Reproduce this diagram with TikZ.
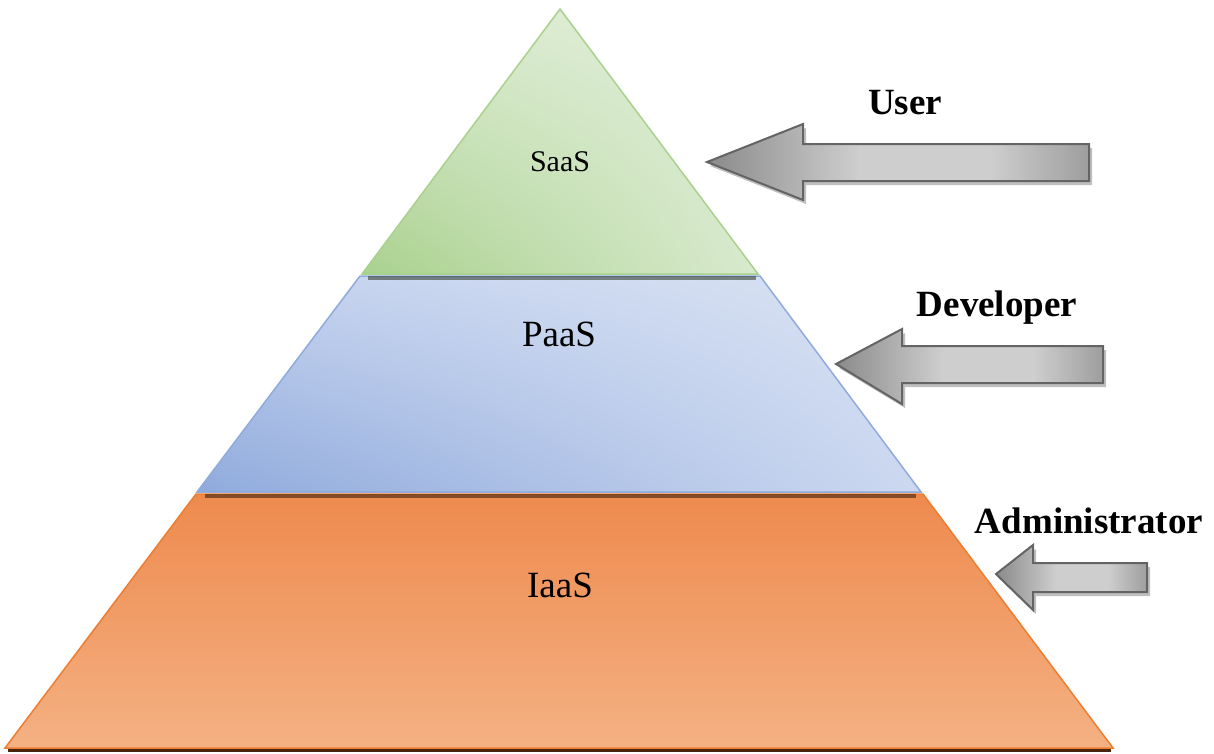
\documentclass[tikz,border=0pt]{standalone}
\usepackage{fontspec}
\setmainfont{Liberation Serif}
\usetikzlibrary{shadings}
\definecolor{saasD}{HTML}{A9D18E}
\definecolor{saasL}{HTML}{E2EFDA}
\definecolor{saasM}{HTML}{CFE4C1}
\definecolor{paasD}{HTML}{8FAADC}
\definecolor{paasL}{HTML}{DAE3F3}
\definecolor{paasM}{HTML}{C3D1EE}
\definecolor{iaasT}{HTML}{EE8A4E}
\definecolor{iaasB}{HTML}{F4B183}
\definecolor{iaasE}{HTML}{ED7D31}
\definecolor{arrE}{HTML}{646464}
\definecolor{arrD}{HTML}{8A8A8A}
\definecolor{arrL}{HTML}{CECECE}
\definecolor{arrR}{HTML}{9E9E9E}
\pgfdeclarehorizontalshading{arrowgrad}{100bp}{color(0bp)=(arrD); color(25bp)=(arrD); color(45bp)=(arrL); color(62bp)=(arrL); color(75bp)=(arrR); color(100bp)=(arrR)}
\tikzset{
  layertext/.style={font=\fontsize{37}{44}\selectfont, text=black},
  roletext/.style={font=\fontsize{37}{44}\selectfont\bfseries, text=black},
  arrowshape/.style={draw=arrE, line width=2pt, line join=miter, shading=arrowgrad},
  arrowshadow/.style={fill=black, opacity=0.25, shift={(3,4)}},
  layershadow/.style={line width=4pt, opacity=0.55}
}
\begin{document}
\begin{tikzpicture}[x=1pt,y=-1pt]
\useasboundingbox (0,0) rectangle (1214,753);
% IaaS
\fill[black!70!iaasE] (8,748) rectangle (1111,752);
\shade[draw=iaasE, line width=1.5pt, top color=iaasT, bottom color=iaasB]
  (196,494) -- (923,494) -- (1113,748) -- (5,748) -- cycle;
% PaaS
\shade[draw=paasD, line width=1.5pt, lower left=paasD, upper right=paasL, upper left=paasM, lower right=paasM!60!paasL]
  (360,276) -- (760,276) -- (921,492) -- (197,492) -- cycle;
\draw[layershadow, draw=black!80!iaasE] (205,495.5) -- (916,495.5);
% SaaS
\shade[draw=saasD, line width=1.5pt, lower left=saasD, upper right=saasL, upper left=saasM!50!saasL, lower right=saasM!50!saasL]
  (560,9) -- (758,274) -- (362,274) -- cycle;
\draw[layershadow, draw=black!75!saasD] (368,277.5) -- (756,277.5);
% text
\node[layertext, font=\fontsize{30}{36}\selectfont] (saas) at (560,162) {SaaS};
\node[layertext] (paas) at (559,334) {PaaS};
\node[layertext] (iaas) at (560,585) {IaaS};
% arrows
\fill[arrowshadow] (707,162) -- (803,124) -- (803,144) -- (1089,144) -- (1089,181) -- (803,181) -- (803,200) -- cycle;
\shade[arrowshape] (707,162) -- (803,124) -- (803,144) -- (1089,144) -- (1089,181) -- (803,181) -- (803,200) -- cycle;
\fill[arrowshadow] (836,364) -- (902,329) -- (902,346) -- (1103,346) -- (1103,383) -- (902,383) -- (902,404) -- cycle;
\shade[arrowshape] (836,364) -- (902,329) -- (902,346) -- (1103,346) -- (1103,383) -- (902,383) -- (902,404) -- cycle;
\fill[arrowshadow] (996,574) -- (1033,545) -- (1033,563) -- (1147,563) -- (1147,592) -- (1033,592) -- (1033,610) -- cycle;
\shade[arrowshape] (996,574) -- (1033,545) -- (1033,563) -- (1147,563) -- (1147,592) -- (1033,592) -- (1033,610) -- cycle;
% roles
\node[roletext] (user) at (905,103) {User};
\node[roletext] (dev) at (997,308) {Developer};
\node[roletext] (admin) at (1089,521) {Administrator};
\end{tikzpicture}
\end{document}
